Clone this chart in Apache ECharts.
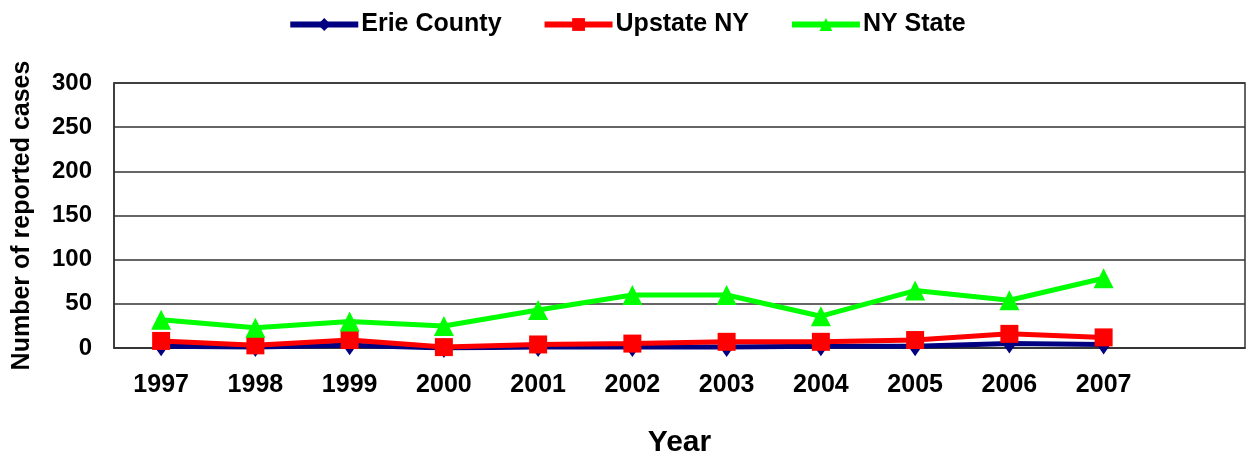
<!DOCTYPE html>
<html><head><meta charset="utf-8">
<script src="https://cdn.jsdelivr.net/npm/echarts@6/dist/echarts.min.js"></script>
<style>html,body{margin:0;padding:0;background:#fff}#c{width:1253px;height:459px}</style>
</head><body><div id="c"></div>
<script>
var years = ['1997','1998','1999','2000','2001','2002','2003','2004','2005','2006','2007',''];
var erieCounty = [2,1,3,0,1,1,1,2,2,5,4,null];
var upstateNY = [8,3,9,1,4,5,7,7,9,16,12,null];
var nyState = [32,23,30,25,43,60,60,36,65,54,79,null];
var yTicks = [0,50,100,150,200,250,300];

var chart = echarts.init(document.getElementById('c'));
var font = 'Liberation Sans, Arial, sans-serif';
chart.setOption({
  animation:false,
  legend:{top:7,left:'center',itemWidth:68,itemHeight:16,itemGap:40,
    lineStyle:{width:6},
    textStyle:{fontFamily:font,fontSize:25,fontWeight:'bold',color:'#000',padding:[0,0,0,-2]},
    data:['Erie County','Upstate NY','NY State']},
  grid:{left:114,right:8,top:83,bottom:111,outerBoundsMode:'none',containLabel:false,
    show:true,borderColor:'#333',borderWidth:1.5},
  xAxis:{type:'category',data:years,boundaryGap:true,
    name:'Year',nameLocation:'middle',nameGap:80,
    nameTextStyle:{fontFamily:font,fontSize:30,fontWeight:'bold',color:'#000'},
    axisLine:{lineStyle:{color:'#333',width:1.5}},axisTick:{show:false},
    axisLabel:{fontFamily:font,fontSize:25,fontWeight:'bold',color:'#000',margin:25}},
  yAxis:{type:'value',min:0,max:300,interval:50,
    name:'Number of reported cases',nameLocation:'middle',nameGap:79,
    nameTextStyle:{fontFamily:font,fontSize:25,fontWeight:'bold',color:'#000'},
    axisLine:{show:true,lineStyle:{color:'#333',width:1.5}},axisTick:{show:false},
    splitLine:{lineStyle:{color:'#333',width:1.5}},
    axisLabel:{fontFamily:font,fontSize:24,fontWeight:'bold',color:'#000',margin:22,
      formatter:function(v){return yTicks.indexOf(v)>=0?String(v):'';}}},
  series:[
    {name:'Erie County',type:'line',data:erieCounty,symbol:'diamond',symbolSize:[14,20],
      lineStyle:{width:5,color:'#000080'},itemStyle:{color:'#000080'},z:2},
    {name:'Upstate NY',type:'line',data:upstateNY,symbol:'rect',symbolSize:18,
      lineStyle:{width:5,color:'#ff0000'},itemStyle:{color:'#ff0000'},z:3},
    {name:'NY State',type:'line',data:nyState,symbol:'triangle',symbolSize:20,
      lineStyle:{width:5,color:'#00ff00'},itemStyle:{color:'#00ff00'},z:4}
  ]
});
</script></body></html>
